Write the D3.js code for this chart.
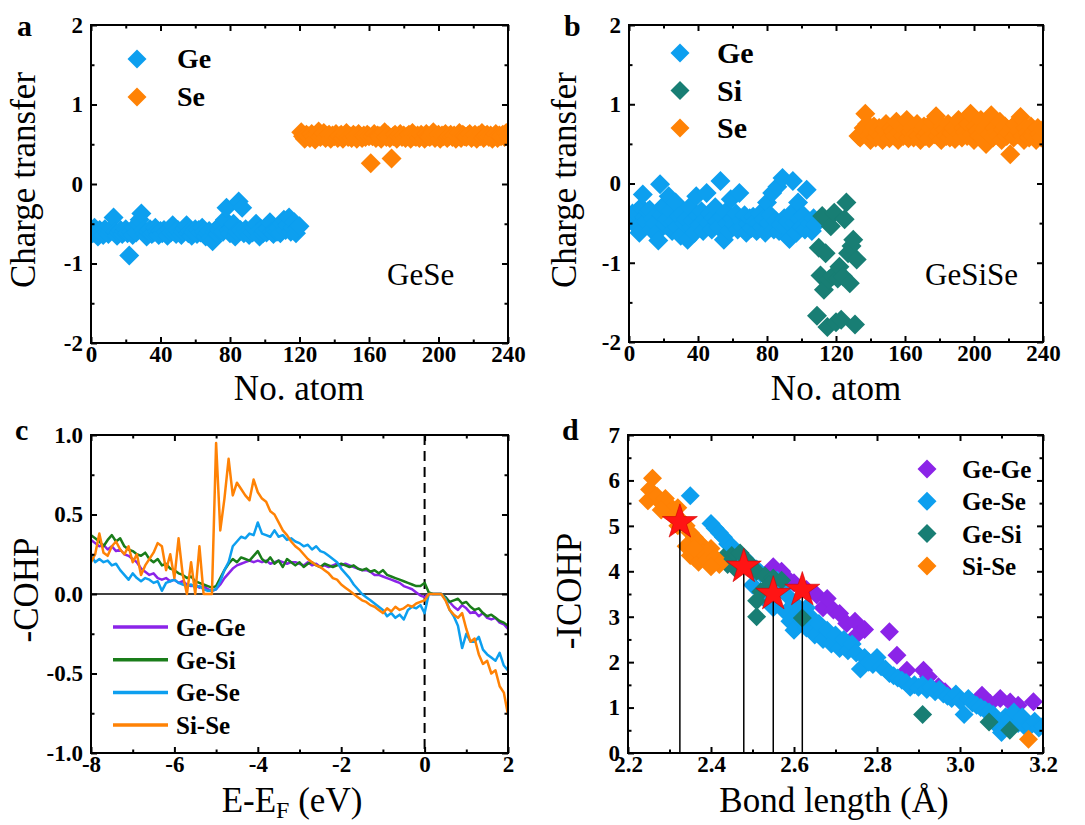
<!DOCTYPE html>
<html>
<head>
<meta charset="utf-8">
<script src="https://cdn.jsdelivr.net/npm/d3@7"></script>
<style>
body { margin: 0; background: #fff; }
svg text { fill: #000; }
</style>
</head>
<body>
<svg id="fig" width="1085" height="825"></svg>
<script>
// colours
var cGe = '#0D9FEF', cSe = '#FF8205', cSi = '#187E74'
var cGeGe = '#8B24E8', cGeSi = '#1A7D1A'
var serif = '"Liberation Serif", "Times New Roman", Tinos, "DejaVu Serif", "Noto Serif", serif'

// ---- panel a : GeSe charge transfer (atom 1..120 Ge, 121..240 Se)
var aGe = [
  -0.62,-0.55,-0.6,-0.66,-0.58,-0.61,-0.64,-0.57,-0.6,-0.63,
  -0.59,-0.56,-0.42,-0.6,-0.65,-0.61,-0.58,-0.63,-0.6,-0.57,
  -0.62,-0.9,-0.6,-0.64,-0.55,-0.61,-0.5,-0.45,-0.37,-0.58,
  -0.62,-0.66,-0.6,-0.57,-0.63,-0.61,-0.55,-0.6,-0.64,-0.59,
  -0.62,-0.58,-0.6,-0.65,-0.57,-0.61,-0.52,-0.6,-0.63,-0.58,
  -0.61,-0.64,-0.6,-0.56,-0.52,-0.62,-0.59,-0.65,-0.6,-0.57,
  -0.63,-0.58,-0.61,-0.55,-0.6,-0.66,-0.62,-0.59,-0.68,-0.72,
  -0.6,-0.57,-0.63,-0.58,-0.52,-0.6,-0.45,-0.3,-0.58,-0.62,
  -0.55,-0.5,-0.66,-0.6,-0.22,-0.58,-0.3,-0.62,-0.57,-0.6,
  -0.64,-0.58,-0.61,-0.55,-0.5,-0.6,-0.66,-0.57,-0.62,-0.59,
  -0.61,-0.56,-0.48,-0.6,-0.63,-0.58,-0.6,-0.55,-0.62,-0.5,
  -0.45,-0.58,-0.52,-0.42,-0.6,-0.55,-0.48,-0.62,-0.55,-0.53]
var aSe = [
  0.65,0.6,0.57,0.62,0.6,0.58,0.63,0.6,0.56,0.62,
  0.66,0.59,0.61,0.64,0.58,0.6,0.62,0.57,0.61,0.6,
  0.63,0.58,0.6,0.62,0.57,0.61,0.64,0.59,0.6,0.58,
  0.62,0.6,0.57,0.63,0.6,0.58,0.61,0.59,0.62,0.6,
  0.26,0.6,0.63,0.58,0.61,0.6,0.57,0.62,0.65,0.59,
  0.61,0.58,0.32,0.6,0.62,0.57,0.6,0.63,0.59,0.61,
  0.58,0.6,0.62,0.57,0.64,0.6,0.59,0.61,0.58,0.62,
  0.6,0.57,0.63,0.6,0.59,0.61,0.65,0.58,0.6,0.62,
  0.57,0.61,0.6,0.63,0.58,0.6,0.62,0.59,0.61,0.57,
  0.6,0.64,0.58,0.62,0.6,0.59,0.61,0.63,0.58,0.6,
  0.62,0.57,0.61,0.6,0.64,0.58,0.6,0.62,0.59,0.61,
  0.57,0.6,0.63,0.58,0.61,0.6,0.62,0.59,0.64,0.6]
var aGeStart = 1, aSeStart = 121

// ---- panel b : GeSiSe charge transfer (Ge 1..108, Si 109..132, Se 133..240)
var bGe = [
  -0.45,-0.38,-0.5,-0.37,-0.55,-0.62,-0.3,-0.14,-0.42,-0.48,
  -0.35,-0.33,-0.58,-0.44,-0.5,-0.62,-0.72,-0.01,-0.4,-0.28,
  -0.52,-0.45,-0.16,-0.35,-0.6,-0.48,-0.24,-0.55,-0.42,-0.66,
  -0.38,-0.5,-0.45,-0.71,-0.3,-0.55,-0.47,-0.62,-0.16,-0.4,
  -0.52,-0.35,-0.6,-0.45,-0.12,-0.5,-0.38,-0.58,-0.44,-0.3,
  -0.48,-0.55,0.03,-0.42,-0.71,-0.36,-0.5,-0.6,-0.2,-0.45,
  -0.52,-0.38,-0.58,-0.12,-0.47,-0.55,-0.4,-0.62,-0.5,-0.44,
  -0.56,-0.42,-0.48,-0.6,-0.5,-0.38,-0.55,-0.45,-0.62,-0.24,
  -0.5,-0.4,-0.12,-0.58,-0.47,-0.04,-0.6,-0.52,0.07,-0.44,
  -0.55,-0.48,-0.7,-0.38,0.03,-0.5,-0.62,-0.24,-0.45,-0.55,
  -0.4,-0.58,-0.08,-0.47,-0.5,-0.6,-0.44,-0.52]
var bSi = [
  -1.67,-0.81,-1.16,-0.41,-1.34,-0.88,-1.81,-1.21,-0.54,-1.17,
  -0.37,-1.75,-1.2,-1.05,-1.72,-1.17,-0.45,-0.24,-0.88,-1.26,
  -0.79,-0.71,-1.78,-0.96]
var bSe = [
  0.6,0.58,0.62,0.7,0.88,0.75,0.6,0.55,0.66,0.72,
  0.58,0.64,0.7,0.6,0.55,0.68,0.75,0.62,0.57,0.7,
  0.66,0.6,0.78,0.55,0.64,0.72,0.6,0.68,0.8,0.57,
  0.65,0.7,0.58,0.62,0.75,0.6,0.55,0.68,0.72,0.6,
  0.64,0.57,0.7,0.78,0.62,0.85,0.6,0.66,0.55,0.72,
  0.68,0.6,0.75,0.58,0.64,0.7,0.56,0.66,0.8,0.62,
  0.58,0.7,0.65,0.6,0.75,0.88,0.62,0.55,0.72,0.66,
  0.6,0.8,0.57,0.68,0.5,0.74,0.62,0.86,0.58,0.7,
  0.65,0.6,0.78,0.55,0.68,0.72,0.6,0.64,0.37,0.7,
  0.58,0.75,0.62,0.66,0.84,0.6,0.55,0.7,0.64,0.58,
  0.72,0.6,0.66,0.55,0.7,0.62,0.58,0.68]
var bGeStart = 1, bSiStart = 109, bSeStart = 133

// ---- panel c : -COHP vs E-EF
var energy = [
  -8,-7.9,-7.8,-7.7,-7.6,-7.5,-7.4,-7.3,-7.2,-7.1,
  -7,-6.9,-6.8,-6.7,-6.6,-6.5,-6.4,-6.3,-6.2,-6.1,
  -6,-5.9,-5.8,-5.7,-5.6,-5.5,-5.4,-5.3,-5.2,-5.1,
  -5,-4.9,-4.8,-4.7,-4.6,-4.5,-4.4,-4.3,-4.2,-4.1,
  -4,-3.9,-3.8,-3.7,-3.6,-3.5,-3.4,-3.3,-3.2,-3.1,
  -3,-2.9,-2.8,-2.7,-2.6,-2.5,-2.4,-2.3,-2.2,-2.1,
  -2,-1.9,-1.8,-1.7,-1.6,-1.5,-1.4,-1.3,-1.2,-1.1,
  -1,-0.9,-0.8,-0.7,-0.6,-0.5,-0.4,-0.3,-0.2,-0.1,
  0,0.1,0.2,0.3,0.4,0.5,0.6,0.7,0.8,0.9,
  1,1.1,1.2,1.3,1.4,1.5,1.6,1.7,1.8,1.9,2]
var cohpGeGe = [
  0.34,0.32,0.3,0.31,0.28,0.3,0.27,0.28,0.25,0.24,
  0.22,0.2,0.16,0.14,0.12,0.13,0.1,0.09,0.1,0.08,
  0.09,0.07,0.08,0.06,0.05,0.06,0.04,0.05,0.03,0.02,
  0.03,0.06,0.1,0.13,0.16,0.18,0.19,0.2,0.21,0.2,
  0.21,0.2,0.21,0.19,0.2,0.21,0.2,0.19,0.2,0.2,
  0.19,0.18,0.2,0.18,0.19,0.17,0.18,0.17,0.18,0.19,
  0.18,0.19,0.18,0.17,0.16,0.15,0.15,0.14,0.12,0.12,
  0.11,0.1,0.09,0.08,0.07,0.05,0.04,0.03,0.01,-0.01,
  -0.02,0,0,0,0,-0.02,-0.05,-0.08,-0.1,-0.07,
  -0.09,-0.12,-0.11,-0.14,-0.12,-0.15,-0.16,-0.15,-0.18,-0.19,-0.22]
var cohpGeSi = [
  0.37,0.35,0.33,0.3,0.34,0.37,0.33,0.35,0.3,0.28,
  0.27,0.25,0.24,0.26,0.22,0.2,0.22,0.18,0.19,0.16,
  0.15,0.13,0.12,0.1,0.11,0.08,0.07,0.06,0.05,0.04,
  0.05,0.1,0.15,0.19,0.22,0.2,0.23,0.22,0.21,0.24,
  0.27,0.22,0.2,0.23,0.19,0.21,0.17,0.22,0.2,0.18,
  0.2,0.17,0.19,0.2,0.18,0.17,0.19,0.18,0.17,0.18,
  0.19,0.18,0.17,0.18,0.16,0.15,0.16,0.14,0.15,0.13,
  0.15,0.12,0.11,0.1,0.09,0.08,0.07,0.06,0.05,0.05,
  0.07,0.01,0,0,0,-0.02,-0.05,-0.04,-0.03,-0.06,
  -0.05,-0.08,-0.1,-0.09,-0.12,-0.14,-0.13,-0.15,-0.17,-0.18,-0.2]
var cohpGeSe = [
  0.25,0.2,0.22,0.2,0.21,0.18,0.19,0.15,0.12,0.09,
  0.13,0.1,0.08,0.1,0.09,0.07,0.08,0.02,0.07,0.08,
  0.09,0.07,0.06,0.05,0.06,0.04,0.05,0.03,0.02,0.02,
  0.03,0.08,0.15,0.2,0.3,0.33,0.36,0.35,0.38,0.37,
  0.45,0.38,0.37,0.36,0.4,0.36,0.37,0.34,0.35,0.33,
  0.32,0.3,0.31,0.28,0.3,0.27,0.26,0.24,0.22,0.2,
  0.16,0.13,0.1,0.06,0.03,0,-0.02,-0.04,-0.06,-0.08,
  -0.1,-0.14,-0.12,-0.15,-0.13,-0.16,-0.1,-0.08,-0.09,-0.07,
  -0.12,0,0,0,0,-0.03,-0.1,-0.14,-0.2,-0.34,
  -0.25,-0.3,-0.3,-0.27,-0.35,-0.38,-0.4,-0.42,-0.37,-0.45,-0.48]
var cohpSiSe = [
  0.2,0.25,0.38,0.26,0.24,0.3,0.33,0.28,0.25,0.3,
  0.2,0.25,0.12,0.18,0.22,0.26,0.32,0.3,0.15,0.25,
  0.1,0.35,0.12,0,0.2,0,0.3,0,0,0,
  0.95,0.4,0.6,0.85,0.62,0.7,0.66,0.62,0.59,0.72,
  0.64,0.6,0.58,0.52,0.5,0.45,0.4,0.37,0.33,0.3,
  0.28,0.25,0.22,0.2,0.18,0.17,0.15,0.13,0.1,0.09,
  0.06,0.04,0.02,0,-0.02,-0.04,-0.05,-0.07,-0.08,-0.1,
  -0.12,-0.09,-0.11,-0.08,-0.1,-0.09,-0.07,-0.08,-0.06,-0.05,
  -0.04,0,0,0,0,-0.04,-0.1,-0.13,-0.15,-0.12,
  -0.22,-0.3,-0.28,-0.38,-0.44,-0.42,-0.5,-0.48,-0.58,-0.62,-0.76]
var cohpNames = ['Ge-Ge', 'Ge-Si', 'Ge-Se', 'Si-Se']

// ---- panel d : -ICOHP vs bond length, [length, icohp]
var dGeGe = [[2.55,4.1],[2.57,4.0],[2.58,3.88],[2.6,3.75],[2.63,3.6],[2.655,3.48],[2.67,3.2],
  [2.68,3.4],[2.695,3.15],[2.71,3.07],[2.727,2.85],[2.747,2.9],[2.751,2.6],[2.77,2.72],
  [2.83,2.67],[2.848,2.15],[2.872,1.82],[2.912,1.82],[2.924,1.68],[2.948,1.46],[2.964,1.35],
  [3.053,1.27],[3.073,1.09],[3.097,1.2],[3.121,1.12],[3.14,1.05],[3.177,1.13]]
var dGeSe = [[2.35,5.66],[2.4,5.05],[2.41,4.95],[2.42,4.85],[2.43,4.75],[2.44,4.6],[2.45,4.55],
  [2.46,4.45],[2.47,4.35],[2.48,4.3],[2.49,4.2],[2.5,4.1],[2.51,4.05],[2.52,3.95],[2.5,3.7],
  [2.52,3.55],[2.53,3.4],[2.54,3.3],[2.55,3.2],[2.56,3.8],[2.57,3.6],[2.58,3.1],[2.58,3.5],
  [2.59,2.9],[2.6,3.3],[2.6,2.7],[2.61,3.1],[2.62,2.9],[2.63,3.2],[2.63,2.75],[2.64,3.0],
  [2.65,2.6],[2.66,2.85],[2.67,2.5],[2.68,2.7],[2.69,2.4],[2.7,2.6],[2.71,2.3],[2.72,2.5],
  [2.73,2.25],[2.74,2.4],[2.75,2.2],[2.76,1.85],[2.77,2.1],[2.78,2.0],[2.79,1.95],[2.8,2.1],
  [2.81,1.9],[2.82,1.85],[2.83,1.75],[2.84,1.7],[2.85,1.65],[2.86,1.6],[2.87,1.55],[2.88,1.45],
  [2.89,1.5],[2.9,1.45],[2.91,1.5],[2.92,1.4],[2.93,1.45],[2.94,1.35],[2.95,1.4],[2.96,1.3],
  [2.97,1.25],[2.98,1.2],[2.99,1.3],[3.0,1.15],[3.01,0.85],[3.02,1.2],[3.03,1.1],[3.04,1.05],
  [3.05,1.0],[3.06,0.95],[3.07,0.9],[3.08,0.85],[3.09,0.6],[3.1,0.45],[3.11,0.8],[3.12,0.75],
  [3.13,0.9],[3.14,0.65],[3.15,0.8],[3.16,0.55],[3.17,0.6],[3.18,0.7],[3.19,0.55],[3.2,0.6]]
var dGeSi = [[2.43,4.3],[2.45,4.35],[2.47,4.4],[2.46,4.05],[2.44,4.15],[2.49,4.2],[2.51,4.0],
  [2.53,3.9],[2.55,3.85],[2.57,3.8],[2.52,3.55],[2.51,3.35],[2.51,3.0],[2.54,3.7],[2.62,2.97],
  [2.91,0.85],[3.07,0.68],[3.12,0.5]]
var dSiSe = [[2.259,6.05],[2.252,5.8],[2.248,5.55],[2.27,5.65],[2.28,5.5],[2.29,5.6],[2.3,5.45],
  [2.3,5.3],[2.31,5.2],[2.32,5.4],[2.33,5.1],[2.34,5.0],[2.35,4.85],[2.36,4.75],[2.37,4.65],
  [2.38,4.55],[2.34,4.55],[2.35,4.35],[2.36,4.3],[2.37,4.2],[2.38,4.4],[2.39,4.25],[2.4,4.5],
  [2.41,4.3],[2.42,4.15],[2.4,4.1],[2.36,4.5],[2.32,5.0],[2.28,5.35],[3.165,0.3]]
var starLen = [2.325, 2.479, 2.55, 2.62]
var starIcohp = [5.08, 4.1, 3.5, 3.59]

// tick labels
var atomTicks = [0, 40, 80, 120, 160, 200, 240], atomMinor = [20, 60, 100, 140, 180, 220]
var chargeTicks = [-2, -1, 0, 1, 2], chargeMinor = [-1.5, -0.5, 0.5, 1.5]
var eTicks = [-8, -6, -4, -2, 0, 2], eMinor = [-7, -5, -3, -1, 1]
var cohpTicks = [-1, -0.5, 0, 0.5, 1], cohpMinor = [-0.75, -0.25, 0.25, 0.75]
var lenTicks = [2.2, 2.4, 2.6, 2.8, 3.0, 3.2], lenMinor = [2.3, 2.5, 2.7, 2.9, 3.1]
var icohpTicks = [0, 1, 2, 3, 4, 5, 6, 7], icohpMinor = [0.5, 1.5, 2.5, 3.5, 4.5, 5.5, 6.5]

var svg = d3.select('#fig')

function diamond(r) {
    return 'M0,' + (-r) + 'L' + r + ',0L0,' + r + 'L' + (-r) + ',0Z'
}

function panel(id, box, xDom, yDom, o) {
    var w = box[2] - box[0], h = box[3] - box[1]
    var g = svg.append('g').attr('transform', 'translate(' + box[0] + ',' + box[1] + ')')
    var x = d3.scaleLinear().domain(xDom).range([0, w])
    var y = d3.scaleLinear().domain(yDom).range([h, 0])
    g.append('clipPath').attr('id', 'clip' + id).append('rect').attr('width', w).attr('height', h)
    var plot = g.append('g').attr('clip-path', 'url(#clip' + id + ')')
    var ax = g.append('g')
    ax.append('g').attr('transform', 'translate(0,' + h + ')')
        .call(d3.axisBottom(x).tickValues(o.xt).tickSize(-6).tickPadding(3).tickFormat(o.xf))
    ax.append('g')
        .call(d3.axisLeft(y).tickValues(o.yt).tickSize(-6).tickPadding(8).tickFormat(o.yf))
    ax.append('g').call(d3.axisTop(x).tickValues(o.xt).tickSize(-6).tickFormat(''))
    ax.append('g').attr('transform', 'translate(' + w + ',0)')
        .call(d3.axisRight(y).tickValues(o.yt).tickSize(-6).tickFormat(''))
    // minor ticks
    ax.append('g').attr('transform', 'translate(0,' + h + ')')
        .call(d3.axisBottom(x).tickValues(o.xm).tickSize(-3.5).tickFormat(''))
    ax.append('g').call(d3.axisTop(x).tickValues(o.xm).tickSize(-3.5).tickFormat(''))
    ax.append('g').call(d3.axisLeft(y).tickValues(o.ym).tickSize(-3.5).tickFormat(''))
    ax.append('g').attr('transform', 'translate(' + w + ',0)')
        .call(d3.axisRight(y).tickValues(o.ym).tickSize(-3.5).tickFormat(''))
    ax.selectAll('.domain').remove()
    ax.selectAll('g').attr('font-family', serif)
    ax.selectAll('line').attr('stroke', '#000').attr('stroke-width', 2)
    ax.selectAll('text').attr('font-size', 23).attr('font-weight', 'bold').style('font-family', serif)
    g.append('rect').attr('width', w).attr('height', h)
        .attr('fill', 'none').attr('stroke', '#000').attr('stroke-width', 2)
    return { g: g, plot: plot, x: x, y: y, w: w, h: h }
}

function label(txt, x, y, size, bold, rot) {
    var t = svg.append('text').attr('x', x).attr('y', y).attr('font-size', size)
        .style('font-family', serif)
        .attr('font-weight', bold ? 'bold' : 'normal').text(txt)
    if (rot) t.attr('text-anchor', 'middle').attr('transform', 'rotate(-90,' + x + ',' + y + ')')
    return t
}

function scatter(p, vals, start, color) {
    p.plot.selectAll(null).data(vals).join('path')
        .attr('d', diamond(10))
        .attr('fill', color)
        .attr('transform', function(d, i) {
            return 'translate(' + p.x(start + i) + ',' + p.y(d) + ')'
        })
}

var fmtInt = function(d) { return String(d) }
var fmt1 = function(d) { return d.toFixed(1) }

// ---------------- a
var pa = panel('a', [91, 25, 508, 343], [0, 240], [-2, 2],
    { xt: atomTicks, xm: atomMinor, yt: chargeTicks, ym: chargeMinor, xf: fmtInt, yf: fmtInt })
scatter(pa, aGe, aGeStart, cGe)
scatter(pa, aSe, aSeStart, cSe)

// ---------------- b
var pb = panel('b', [629, 25, 1043, 342], [0, 240], [-2, 2],
    { xt: atomTicks, xm: atomMinor, yt: chargeTicks, ym: chargeMinor, xf: fmtInt, yf: fmtInt })
scatter(pb, bGe, bGeStart, cGe)
scatter(pb, bSe, bSeStart, cSe)
scatter(pb, bSi, bSiStart, cSi)

// ---------------- c
var pc = panel('c', [91, 435, 508, 753], [-8, 2], [-1, 1],
    { xt: eTicks, xm: eMinor, yt: cohpTicks, ym: cohpMinor, xf: fmtInt, yf: fmt1 })
pc.plot.append('line').attr('x1', 0).attr('x2', pc.w).attr('y1', pc.y(0)).attr('y2', pc.y(0))
    .attr('stroke', '#000').attr('stroke-width', 1.5)
pc.plot.append('line').attr('x1', pc.x(0)).attr('x2', pc.x(0)).attr('y1', 0).attr('y2', pc.h)
    .attr('stroke', '#000').attr('stroke-width', 2).attr('stroke-dasharray', '10,6')
var cohpSeries = [cohpGeGe, cohpGeSi, cohpGeSe, cohpSiSe]
var cohpColors = [cGeGe, cGeSi, cGe, cSe]
var line = d3.line()
    .x(function(d, i) { return pc.x(energy[i]) })
    .y(function(d) { return pc.y(d) })
cohpSeries.forEach(function(s, k) {
    pc.plot.append('path').attr('d', line(s)).attr('fill', 'none')
        .attr('stroke', cohpColors[k]).attr('stroke-width', 2.5).attr('stroke-linejoin', 'round')
})
cohpNames.forEach(function(n, k) {
    var yy = 627 + k * 32.7
    svg.append('line').attr('x1', 113).attr('x2', 168).attr('y1', yy).attr('y2', yy)
        .attr('stroke', cohpColors[k]).attr('stroke-width', 3.5)
    label(n, 176, yy + 9, 25, true)
})

// ---------------- d
var pd = panel('d', [628, 435, 1043, 753], [2.2, 3.2], [0, 7],
    { xt: lenTicks, xm: lenMinor, yt: icohpTicks, ym: icohpMinor, xf: fmt1, yf: fmtInt })
var dSets = [dGeGe, dGeSe, dGeSi, dSiSe]
var dColors = [cGeGe, cGe, cSi, cSe]
var dNames = ['Ge-Ge', 'Ge-Se', 'Ge-Si', 'Si-Se']
dSets.forEach(function(s, k) {
    pd.plot.selectAll(null).data(s).join('path')
        .attr('d', diamond(9.5)).attr('fill', dColors[k])
        .attr('transform', function(d) { return 'translate(' + pd.x(d[0]) + ',' + pd.y(d[1]) + ')' })
})
pd.plot.selectAll(null).data(starLen).join('line')
    .attr('x1', function(d) { return pd.x(d) }).attr('x2', function(d) { return pd.x(d) })
    .attr('y1', function(d, i) { return pd.y(starIcohp[i]) }).attr('y2', pd.y(0))
    .attr('stroke', '#000').attr('stroke-width', 1.5)
pd.plot.selectAll(null).data(starLen).join('path')
    .attr('d', d3.symbol(d3.symbolStar, 380)())
    .attr('fill', '#FF1414').attr('stroke', '#D00000').attr('stroke-width', 0.6)
    .attr('transform', function(d, i) { return 'translate(' + pd.x(d) + ',' + pd.y(starIcohp[i]) + ')' })
dNames.forEach(function(n, k) {
    var yy = 469 + k * 32.3
    svg.append('path').attr('d', diamond(9.5)).attr('fill', dColors[k])
        .attr('transform', 'translate(927,' + yy + ')')
    label(n, 962, yy + 9, 25, true)
})

// ---------------- legends a, b
;[['Ge', cGe], ['Se', cSe]].forEach(function(e, k) {
    var yy = 59 + k * 38
    svg.append('path').attr('d', diamond(9.5)).attr('fill', e[1]).attr('transform', 'translate(137,' + yy + ')')
    label(e[0], 177, yy + 9, 28, true)
})
;[['Ge', cGe], ['Si', cSi], ['Se', cSe]].forEach(function(e, k) {
    var yy = 53 + k * 37.5
    svg.append('path').attr('d', diamond(9.5)).attr('fill', e[1]).attr('transform', 'translate(680,' + yy + ')')
    label(e[0], 717, yy + 10, 30, true)
})
label('GeSe', 387, 285, 31, false)
label('GeSiSe', 925, 285, 31, false)

// axis titles
label('Charge transfer', 35, 180, 35, false, true)
label('Charge transfer', 576, 180, 35, false, true)
label('-COHP', 38, 590, 35, false, true)
label('-ICOHP', 581, 591, 35, false, true)
label('No. atom', 299, 400, 35, false).attr('text-anchor', 'middle')
label('No. atom', 836, 400, 35, false).attr('text-anchor', 'middle')
var ef = label('E-E', 292, 812, 35, false).attr('text-anchor', 'middle')
ef.append('tspan').attr('font-size', 24).attr('dy', 6).text('F')
ef.append('tspan').attr('dy', -6).text(' (eV)')
label('Bond length (Å)', 834, 812, 35, false).attr('text-anchor', 'middle')

// panel letters
label('a', 17, 36, 30, true)
label('b', 564, 36, 30, true)
label('c', 15, 440, 30, true)
label('d', 562, 440, 30, true)
</script>
</body>
</html>
